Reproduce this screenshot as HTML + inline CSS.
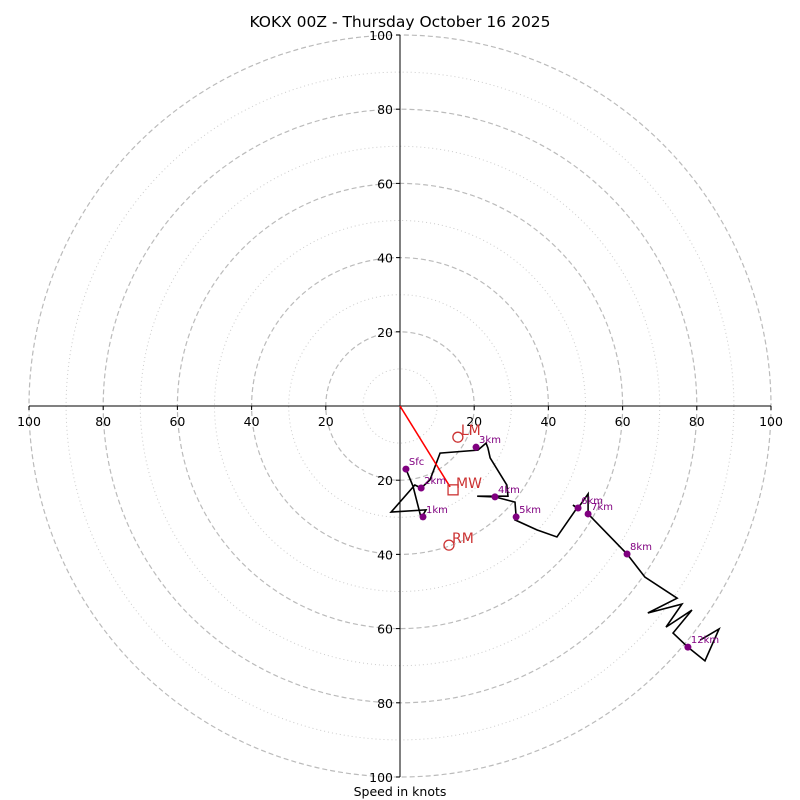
<!DOCTYPE html>
<html><head><meta charset="utf-8"><style>
body{margin:0;background:#fff;}
svg{display:block;font-family:"DejaVu Sans","Liberation Sans",sans-serif;}
</style></head><body>
<svg id="chart" width="800" height="800" viewBox="0 0 800 800" xmlns="http://www.w3.org/2000/svg">
<rect width="800" height="800" fill="#fff"/>
<text x="400" y="27" text-anchor="middle" font-size="15.5">KOKX 00Z - Thursday October 16 2025</text>
<text x="400" y="796" text-anchor="middle" font-size="12.5">Speed in knots</text>
<g id="rings"></g><g id="axes"></g><g id="series"></g><g id="marks"></g>
</svg>
<script>
const ringValues=[10,20,30,40,50,60,70,80,90,100];
const tickValues=[20,40,60,80,100];
const hodoU=[1.6,3.5,5.7,7.0,-2.4,4.0,5.7,8.1,10.8,21.0,23.2,23.7,24.3,28.8,29.1,20.8,25.6,31.0,31.3,31.0,36.9,42.3,47.7,46.6,48.0,50.7,50.7,61.2,66.0,74.7,66.8,76.0,71.7,78.7,73.6,77.6,82.2,86.0,80.9];
const hodoV=[-17.0,-21.6,-30.2,-28.0,-28.6,-21.3,-22.1,-19.9,-12.7,-11.9,-10.0,-11.3,-14.0,-21.3,-24.3,-24.3,-24.5,-25.9,-29.9,-30.7,-33.4,-35.3,-27.5,-26.7,-27.5,-23.7,-29.1,-39.9,-46.1,-51.8,-55.8,-53.4,-59.6,-55.0,-61.2,-65.0,-68.7,-60.1,-63.1];
const levelLabels=["Sfc","1km","2km","3km","4km","5km","6km","7km","8km","12km"];
const levelU=[1.6,6.2,5.7,20.5,25.6,31.3,48.0,50.7,61.2,77.6];
const levelV=[-17.0,-29.9,-22.1,-11.1,-24.5,-29.9,-27.5,-29.1,-39.9,-65.0];
const motionLabels=["LM","MW","RM"];
const motionU=[15.6,14.3,13.2];
const motionV=[-8.4,-22.6,-37.5];
const NS="http://www.w3.org/2000/svg";
const cx=400,cy=406,k=3.71;
const sx=u=>cx+u*k, sy=v=>cy-v*k;
function mk(tag,attrs,parent){const e=document.createElementNS(NS,tag);for(const a in attrs)e.setAttribute(a,attrs[a]);document.getElementById(parent).appendChild(e);return e;}
ringValues.forEach(r=>{
  const major=r%20===0;
  const c=mk('circle',{cx:cx,cy:cy,r:r*k,fill:'none',stroke:major?'#bbb':'#ccc','stroke-width':major?1.2:1,'stroke-dasharray':major?'5,3':'1,3'},'rings');
  
  
});
const hx=mk('line',{x1:sx(-100),y1:cy,x2:sx(100),y2:cy,stroke:'#000','stroke-width':1},'axes');


const vy=mk('line',{x1:cx,y1:sy(100),x2:cx,y2:sy(-100),stroke:'#000','stroke-width':1},'axes');


tickValues.forEach(t=>{
  [t,-t].forEach(s=>{
    mk('line',{x1:sx(s),y1:cy,x2:sx(s),y2:cy+4,stroke:'#000'},'axes');
    const tx=mk('text',{x:sx(s),y:cy+20,'text-anchor':'middle','font-size':12.5},'axes');
    tx.textContent=t;
    
    
    mk('line',{x1:cx-4,y1:sy(s),x2:cx,y2:sy(s),stroke:'#000'},'axes');
    const ty=mk('text',{x:cx-7,y:sy(s)+5,'text-anchor':'end','font-size':12.5},'axes');
    ty.textContent=t;
    
    
  });
});
const pts=hodoU.map((u,i)=>sx(u)+','+sy(hodoV[i])).join(' ');
const pl=mk('polyline',{points:pts,fill:'none',stroke:'#000','stroke-width':1.6,'stroke-linejoin':'miter'},'series');


const mw=mk('line',{x1:cx,y1:cy,x2:sx(motionU[1]-0.8),y2:sy(motionV[1]+0.8),stroke:'red','stroke-width':1.6},'series');


levelLabels.forEach((l,i)=>{
  const c=mk('circle',{cx:sx(levelU[i]),cy:sy(levelV[i]),r:3.5,fill:'purple'},'marks');
  
  
  const t=mk('text',{x:sx(levelU[i])+3,y:sy(levelV[i])-4,'font-size':10,fill:'purple'},'marks');
  t.textContent=l;
  
  
});
motionLabels.forEach((l,i)=>{
  const x=sx(motionU[i]),y=sy(motionV[i]);
  let m;
  if(l==='MW') m=mk('rect',{x:x-5,y:y-5,width:10,height:10,fill:'none',stroke:'#c33','stroke-width':1.3},'marks');
  else m=mk('circle',{cx:x,cy:y,r:5,fill:'none',stroke:'#c33','stroke-width':1.3},'marks');
  
  
  const t=mk('text',{x:x+3,y:y-2,'font-size':14,fill:'#c33'},'marks');
  t.textContent=l;
  
  
});
</script>
</body></html>
